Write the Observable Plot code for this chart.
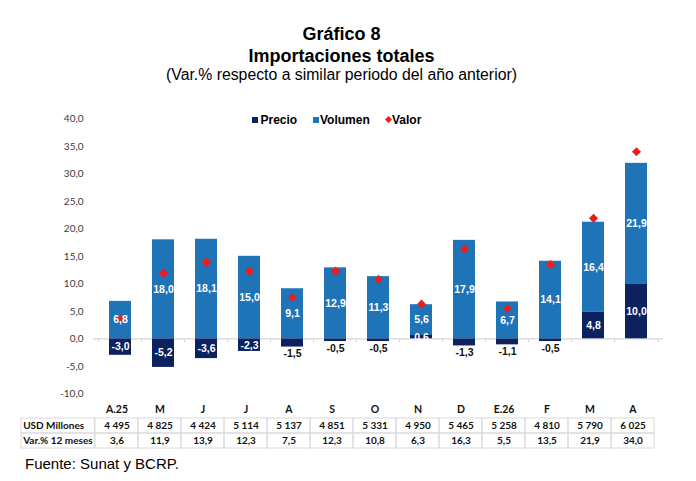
<!DOCTYPE html>
<html>
<head>
<meta charset="utf-8">
<script src="https://cdn.jsdelivr.net/npm/d3@7"></script>
<script src="https://cdn.jsdelivr.net/npm/@observablehq/plot@0.6"></script>
<style>
  html, body { margin: 0; padding: 0; background: #fff; }
  #root { position: relative; width: 696px; height: 481px; background: #fff; overflow: hidden;
          font-family: "Liberation Sans", Arial, sans-serif; color: #000; }
  .abs { position: absolute; }
  .title { left: 0; width: 683px; text-align: center; white-space: nowrap; }
  .leg { position: absolute; top: 114px; font: bold 12px/12px "Liberation Sans", Arial, sans-serif; white-space: nowrap; }
  .sw { position: absolute; width: 6px; height: 6px; }
</style>
</head>
<body>
<div id="root">
  <div id="chart" class="abs" style="left:0;top:0"></div>
  <div id="table" class="abs" style="left:0;top:395px"></div>
  <div class="abs title" style="top:25px;font:bold 18px/18px 'Liberation Sans', Arial, sans-serif">Gráfico 8</div>
  <div class="abs title" style="top:47px;font:bold 18px/18px 'Liberation Sans', Arial, sans-serif">Importaciones totales</div>
  <div class="abs title" style="top:67px;font:15.8px/16px 'Liberation Sans', Arial, sans-serif">(Var.% respecto a similar periodo del año anterior)</div>
  <div id="legend"></div>
  <div class="abs" style="left:25px;top:456.3px;font:15px/15px 'Liberation Sans', Arial, sans-serif">Fuente: Sunat y BCRP.</div>
</div>
<script>
// Months (April 2025 to April 2026)
const meses = ["A.25", "M", "J", "J", "A", "S", "O", "N", "D", "E.26", "F", "M", "A"];
// Contribution of price and volume to the year-on-year change (%)
const precio  = [-3.0, -5.2, -3.6, -2.3, -1.5, -0.5, -0.5, 0.6, -1.3, -1.1, -0.5, 4.8, 10.0];
const volumen = [6.8, 18.0, 18.1, 15.0, 9.1, 12.9, 11.3, 5.6, 17.9, 6.7, 14.1, 16.4, 21.9];
// Total value change (%), also shown as "Var.% 12 meses"
const valor   = [3.6, 11.9, 13.9, 12.3, 7.5, 12.3, 10.8, 6.3, 16.3, 5.5, 13.5, 21.9, 34.0];
// Imports in millions of USD
const usdMillones = [4495, 4825, 4424, 5114, 5137, 4851, 5331, 4950, 5465, 5258, 4810, 5790, 6025];
const yTicks = [-10, -5, 0, 5, 10, 15, 20, 25, 30, 35, 40];
const filasTabla = ["USD Millones", "Var.% 12 meses"];

const series = ["Precio", "Volumen"];
const colores = { Precio: "#0c2160", Volumen: "#1f74b8", Valor: "#ee1c1c" };

const fmt1 = v => v.toFixed(1).replace(".", ",");
const fmtUSD = d3.formatLocale({ decimal: ",", thousands: " ", grouping: [3], currency: ["", ""] }).format(",d");

const idx = d3.range(meses.length);
const barras = idx.flatMap(i => [
  { i, serie: "Precio", v: precio[i] },
  { i, serie: "Volumen", v: volumen[i] }
]);

// Layout of the plotting area
const W = 696, mL = 93, mR = 33;
const paso = (W - mL - mR) / meses.length;
const pequeno = d => d.serie === "Precio" && d.v < 0 && d.v > -2;

const chart = Plot.plot({
  width: W,
  height: 400,
  marginTop: 118.3,
  marginBottom: 6.7,
  marginLeft: mL,
  marginRight: mR,
  style: { fontFamily: "'Liberation Sans', Arial, sans-serif", fontSize: "10.5px", background: "transparent" },
  x: { type: "band", domain: idx, paddingInner: 0.5, paddingOuter: 0.25, axis: null },
  y: { domain: [-10, 40], axis: null },
  color: { domain: series, range: series.map(s => colores[s]) },
  marks: [
    Plot.axisY({
      ticks: yTicks, tickSize: 0, tickPadding: 10, tickFormat: fmt1, label: null,
      fontFamily: "Lato, 'Open Sans', sans-serif", fontSize: 10, fill: "#3a3a3a"
    }),
    Plot.ruleY([0], { stroke: "#d6d6d6", strokeWidth: 1.2 }),
    Plot.ruleX(idx, { x: d => d, y1: 0, y2: 0, insetBottom: -4, dx: -paso / 2, stroke: "#d6d6d6" }),
    Plot.ruleX([idx[idx.length - 1]], { x: d => d, y1: 0, y2: 0, insetBottom: -4, dx: paso / 2, stroke: "#d6d6d6" }),
    Plot.barY(barras, { x: "i", y: "v", fill: "serie" }),
    Plot.dot(idx, {
      x: i => i, y: i => valor[i], symbol: "diamond2", r: 4.1,
      fill: colores.Valor, stroke: "none"
    }),
    Plot.text(barras, Plot.stackY({
      x: "i", y: "v", z: "serie",
      text: d => (pequeno(d) ? null : fmt1(d.v)),
      fill: "#fff", fontWeight: "bold", fontSize: 10.5
    })),
    Plot.text(barras.filter(pequeno), {
      x: "i", y: "v", text: d => fmt1(d.v), dy: 7,
      fill: "#111", fontWeight: "bold", fontSize: 10.5
    })
  ]
});
document.getElementById("chart").append(chart);

// Data table below the chart
const filas = ["mes", ...filasTabla];
const celdas = idx.flatMap(i => filasTabla.map(f => ({ i, f })));
const valoresTabla = {
  "USD Millones": i => fmtUSD(usdMillones[i]),
  "Var.% 12 meses": i => fmt1(valor[i])
};
const colTabla = (W - 90 - 38) / meses.length;
const tabla = Plot.plot({
  width: W,
  height: 60,
  marginTop: 7.4,
  marginBottom: 7,
  marginLeft: 90,
  marginRight: 38,
  style: { fontFamily: "Lato, 'Open Sans', sans-serif", fontSize: "10px", background: "transparent" },
  x: { type: "band", domain: idx, padding: 0, axis: null },
  y: { type: "band", domain: filas, padding: 0, axis: null },
  marks: [
    Plot.cell(celdas, { x: "i", y: "f", fill: "none", stroke: "#d9d9d9" }),
    Plot.cell(filasTabla, { x: () => 0, y: d => d, fill: "none", stroke: "#d9d9d9", insetLeft: -74, insetRight: colTabla }),
    Plot.text(filasTabla, { x: () => 0, y: d => d, text: d => d, textAnchor: "start", dx: -74 - colTabla / 2 + 2, fontWeight: "bold", fill: "#111" }),
    Plot.text(idx, { x: i => i, y: () => "mes", text: i => meses[i], dy: -1.5, fontWeight: "bold", fontSize: 10.5, fill: "#111" }),
    Plot.text(celdas, { x: "i", y: "f", text: d => valoresTabla[d.f](d.i), fontWeight: "bold", fill: "#111" })
  ]
});
document.getElementById("table").append(tabla);

// Legend
const legend = document.getElementById("legend");
legend.innerHTML = `
  <span class="sw" style="left:252px;top:117px;background:${colores.Precio}"></span>
  <span class="leg" style="left:260.5px">Precio</span>
  <span class="sw" style="left:313px;top:117px;background:${colores.Volumen}"></span>
  <span class="leg" style="left:320px">Volumen</span>
  <span class="sw" style="left:385.5px;top:117px;width:5px;height:5px;transform:rotate(45deg);background:${colores.Valor}"></span>
  <span class="leg" style="left:392px">Valor</span>`;
</script>
</body>
</html>
